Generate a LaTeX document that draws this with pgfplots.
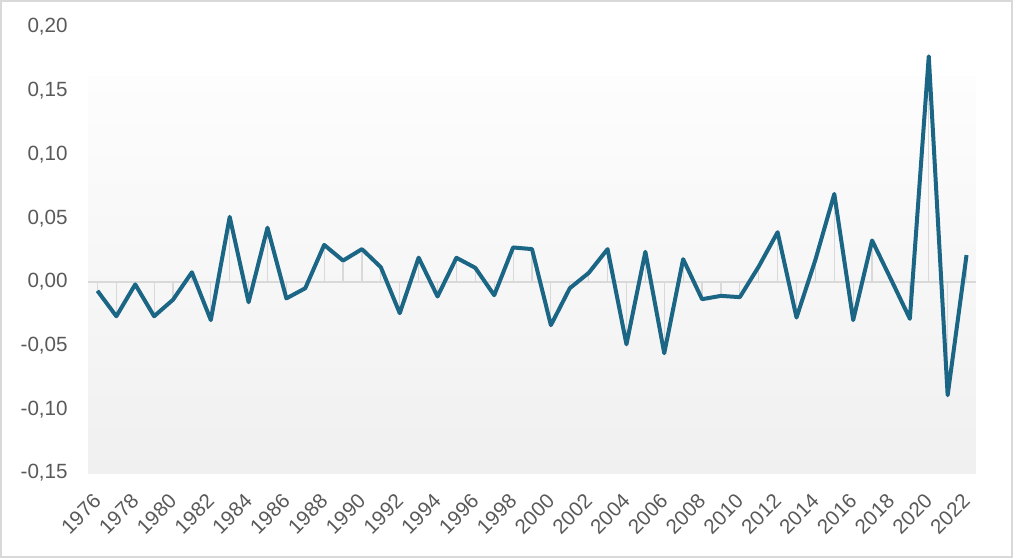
\documentclass[border=0pt]{standalone}
\usepackage{pgfplots}
\pgfplotsset{compat=1.18}
\usepackage{fontspec}
\setmainfont{Liberation Sans}

\definecolor{linecol}{HTML}{1B6585}
\definecolor{txtcol}{HTML}{595959}
\definecolor{gridcol}{HTML}{D9D9D9}
\definecolor{bgtop}{HTML}{FDFDFD}
\definecolor{bgbot}{HTML}{F0F0F0}

\begin{document}
\begin{tikzpicture}
\path[use as bounding box] (-44pt,-42.5pt) rectangle (462.5pt,236.5pt);
\draw[gridcol, line width=1.2pt] (-43.4pt,-41.9pt) rectangle (461.9pt,235.9pt);
\begin{axis}[
    scale only axis,
    width=444pt, height=223pt,
    xmin=1975.5, xmax=2022.5,
    ymin=-0.15, ymax=0.20,
    axis line style={draw=none},
    major tick length=0pt,
    xtick={1976,1978,...,2022},
    ytick={-0.15,-0.10,...,0.21},
    font=\fontsize{10.3}{12}\selectfont,
    tick label style={text=txtcol},
    /pgf/number format/assume math mode=true,
    xticklabel style={xshift=-2.7pt, yshift=-9.5pt, rotate=45,
        anchor=north east, inner sep=0pt, /pgf/number format/1000 sep={}},
    yticklabel style={inner sep=0pt, xshift=-10pt,
        /pgf/number format/.cd, fixed, fixed zerofill, precision=2, use comma},
    clip=false,
]
\fill[top color=bgtop, bottom color=bgbot] (rel axis cs:0,0) rectangle (rel axis cs:1,0.888);
\draw[gridcol, line width=0.8pt] (axis cs:1975.5,0) -- (axis cs:2022.5,0);
\pgfplotstableread{
year val
1976 -0.007
1977 -0.027
1978 -0.002
1979 -0.027
1980 -0.014
1981 0.0075
1982 -0.030
1983 0.051
1984 -0.016
1985 0.0425
1986 -0.013
1987 -0.005
1988 0.029
1989 0.0167
1990 0.0257
1991 0.0115
1992 -0.0246
1993 0.019
1994 -0.0115
1995 0.0189
1996 0.011
1997 -0.0105
1998 0.027
1999 0.0257
2000 -0.034
2001 -0.005
2002 0.007
2003 0.0257
2004 -0.049
2005 0.0236
2006 -0.056
2007 0.0178
2008 -0.0136
2009 -0.011
2010 -0.012
2011 0.012
2012 0.039
2013 -0.028
2014 0.0173
2015 0.069
2016 -0.030
2017 0.0325
2018 0.002
2019 -0.029
2020 0.177
2021 -0.089
2022 0.021
}\data
\addplot[ycomb, gridcol, line width=0.6pt, mark=none] table[x=year, y=val] {\data};
\addplot[linecol, line width=2pt, line join=round, mark=none] table[x=year, y=val] {\data};
\end{axis}
\end{tikzpicture}
\end{document}
